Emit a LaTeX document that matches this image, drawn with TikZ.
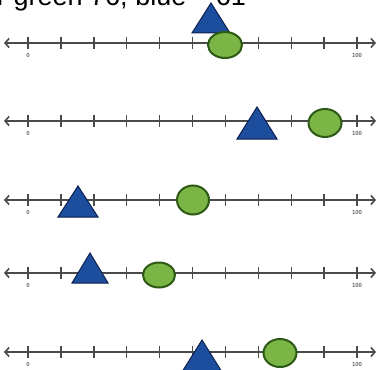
\documentclass[tikz,border=0pt]{standalone}
\usepackage{fontspec}
\setmainfont{Liberation Sans}
\usetikzlibrary{shapes.geometric,arrows.meta}
\definecolor{tri}{HTML}{1D4E9E}
\definecolor{triline}{HTML}{0B1F4F}
\definecolor{ell}{HTML}{7BB545}
\definecolor{ellline}{HTML}{2C5A14}
\definecolor{axis}{HTML}{4A4A4A}
\begin{document}
\begin{tikzpicture}[x=1pt,y=1pt,
  axisline/.style={draw=axis, line width=1.6pt, {Straight Barb[length=4pt,width=9pt,line width=1.6pt]}-{Straight Barb[length=4pt,width=9pt,line width=1.6pt]}},
  tickmark/.style={draw=axis, line width=1.4pt},
  ticklabel/.style={font=\fontsize{6}{6}\selectfont\bfseries, text=axis!80, inner sep=0pt},
  greenmark/.style={ellipse, draw=ellline, fill=ell, line width=2pt, inner sep=0pt},
  bluemark/.style={draw=triline, fill=tri, line width=1pt, line join=miter}]
\clip (0,0) rectangle (379,-369);
\fill[white] (0,0) rectangle (379,-369);
\node[anchor=base west, inner sep=0pt, font=\fontsize{27}{27}\selectfont] (title) at (-3,-6) {r green 76, blue\hspace{1.1em}61};
\foreach \n/\y/\tx/\ta/\tb/\th/\gx/\gy/\gw/\gh in {
  1/-43/211/-3/-33/19/225/-45/34/26,
  2/-121/257/-107/-139/20/325/-123/33/28,
  3/-200/78/-186/-217/20/193/-200/32/29,
  4/-273/90/-253/-283/18/159/-275/32/25,
  5/-352/202/-340/-372/20/280/-353/33/28}{
  \coordinate (L\n a) at (4,\y);
  \coordinate (L\n b) at (376,\y);
  \draw[axisline] (L\n a) -- (L\n b);
  \foreach \i in {0,...,10}{
    \coordinate (T\n-\i) at ({28+32.9*\i},\y);
    \draw[tickmark] ([yshift=6pt]T\n-\i) -- ([yshift=-6pt]T\n-\i);
  }
  \node[ticklabel] (z\n) at ([yshift=-12pt]T\n-0) {0};
  \node[ticklabel] (h\n) at ([yshift=-12pt]T\n-10) {100};
  \draw[bluemark] (\tx,\ta) -- (\tx+\th,\tb) -- (\tx-\th,\tb) -- cycle;
  \node[greenmark, minimum width=\gw pt, minimum height=\gh pt] (g\n) at (\gx,\gy) {};
}
\end{tikzpicture}
\end{document}
